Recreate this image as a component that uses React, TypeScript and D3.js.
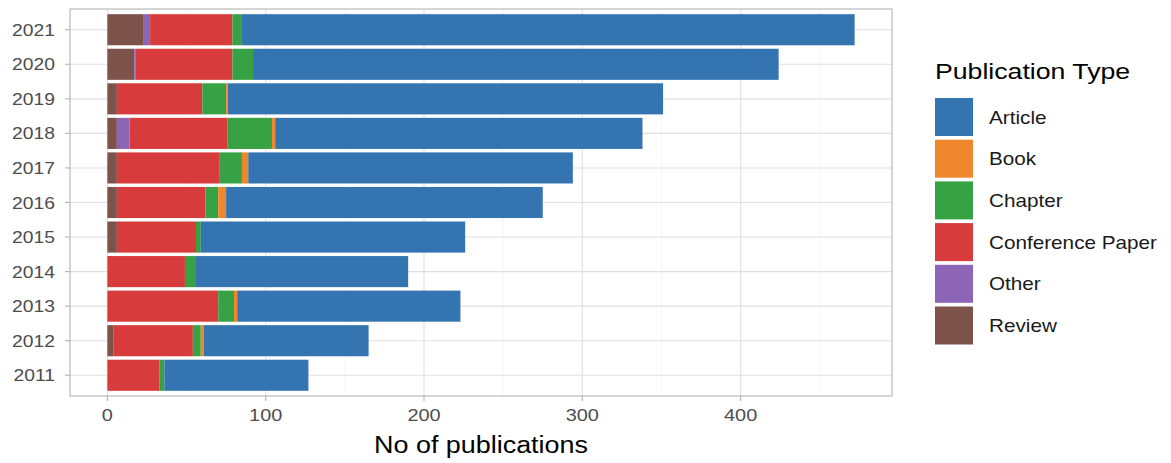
import React from "react";
import * as d3 from "d3";

const years = ["2021", "2020", "2019", "2018", "2017", "2016", "2015", "2014", "2013", "2012", "2011"];
const types = ["Article", "Book", "Chapter", "Conference Paper", "Other", "Review"];
const article = [387, 332, 275, 232, 205, 200, 167, 134, 141, 104, 91];
const book = [0, 0, 1, 2, 4, 5, 0, 0, 2, 2, 0];
const chapter = [6, 13, 15, 28, 14, 8, 3, 7, 10, 5, 3];
const conference = [52, 61, 54, 62, 65, 56, 50, 49, 70, 50, 33];
const other = [4, 1, 0, 8, 0, 0, 0, 0, 0, 0, 0];
const review = [23, 17, 6, 6, 6, 6, 6, 0, 0, 4, 0];
const xTicks = [0, 100, 200, 300, 400];
const xMinor = [50, 150, 250, 350, 450];
const colors = ["#3474b1", "#f0872c", "#36a244", "#d73b3c", "#8d65b6", "#7c524b"];

const W = 1171, H = 463;
const P = { left: 70, right: 892, top: 9, bottom: 396 };
const SX = 1.17;

export default function App() {
  const seriesVals = [article, book, chapter, conference, other, review];
  const rows = years.map((y, i) => {
    const r: any = { year: y };
    types.forEach((t, k) => (r[t] = seriesVals[k][i]));
    return r;
  });
  // stack from left: Review, Other, Conference Paper, Chapter, Book, Article
  const stackOrder = [...types].reverse();
  const stacked = d3.stack().keys(stackOrder)(rows);
  const maxTotal = d3.max(rows, (r: any) => d3.sum(types, (t) => r[t])) as number;
  const pad = maxTotal * 0.05;
  const x = d3.scaleLinear().domain([-pad, maxTotal + pad]).range([P.left, P.right]);
  const step = (P.bottom - P.top) / (years.length + 0.2);
  const yc = (i: number) => P.top + step * (0.6 + i);
  const bw = step * 0.9;
  const color = d3.scaleOrdinal<string, string>().domain(types).range(colors);

  const font = "'Liberation Sans', Arial, sans-serif";
  const txt = (x0: number, y0: number, s: string, size: number, fill: string, anchor: string) => (
    <text
      transform={`translate(${x0},${y0}) scale(${SX},1)`}
      fontSize={size}
      fill={fill}
      textAnchor={anchor as any}
      fontFamily={font}
    >
      {s}
    </text>
  );

  return (
    <svg width={W} height={H} style={{ position: "absolute", left: 0, top: 0, background: "#fff" }}>
      <rect x={0} y={0} width={W} height={H} fill="#fff" />
      {/* grid */}
      {xMinor.filter((v) => x(v) < P.right).map((v) => (
        <line key={"m" + v} x1={x(v)} x2={x(v)} y1={P.top} y2={P.bottom} stroke="#f0f0f0" strokeWidth={0.7} />
      ))}
      {xTicks.map((v) => (
        <line key={"g" + v} x1={x(v)} x2={x(v)} y1={P.top} y2={P.bottom} stroke="#e0e0e0" strokeWidth={1.1} />
      ))}
      {years.map((yr, i) => (
        <line key={"h" + yr} x1={P.left} x2={P.right} y1={yc(i)} y2={yc(i)} stroke="#e0e0e0" strokeWidth={1.1} />
      ))}
      {/* bars */}
      {stacked.map((s) => (
        <g key={s.key} fill={color(s.key)}>
          {s.map((d, i) => (
            <rect key={i} x={x(d[0])} y={yc(i) - bw / 2} width={Math.max(0, x(d[1]) - x(d[0]))} height={bw} />
          ))}
        </g>
      ))}
      {/* border */}
      <rect x={P.left} y={P.top} width={P.right - P.left} height={P.bottom - P.top} fill="none" stroke="#b3b3b3" strokeWidth={1.1} />
      {/* y axis */}
      {years.map((yr, i) => (
        <g key={"yl" + yr}>
          <line x1={P.left - 5} x2={P.left} y1={yc(i)} y2={yc(i)} stroke="#b3b3b3" strokeWidth={1.1} />
          {txt(P.left - 15, yc(i) + 6, yr, 16.5, "#4d4d4d", "end")}
        </g>
      ))}
      {/* x axis */}
      {xTicks.map((v) => (
        <g key={"xl" + v}>
          <line x1={x(v)} x2={x(v)} y1={P.bottom} y2={P.bottom + 5} stroke="#b3b3b3" strokeWidth={1.1} />
          {txt(x(v), 421, String(v), 17, "#4d4d4d", "middle")}
        </g>
      ))}
      {txt((P.left + P.right) / 2, 453, "No of publications", 23, "#000", "middle")}
      {/* legend */}
      {txt(935, 79, "Publication Type", 22.8, "#000", "start")}
      {types.map((t, k) => (
        <g key={"lg" + t}>
          <rect x={935} y={98 + k * 41.7} width={38} height={38} fill={color(t)} />
          {txt(989, 98 + k * 41.7 + 25.5, t, 17.7, "#1a1a1a", "start")}
        </g>
      ))}
    </svg>
  );
}
